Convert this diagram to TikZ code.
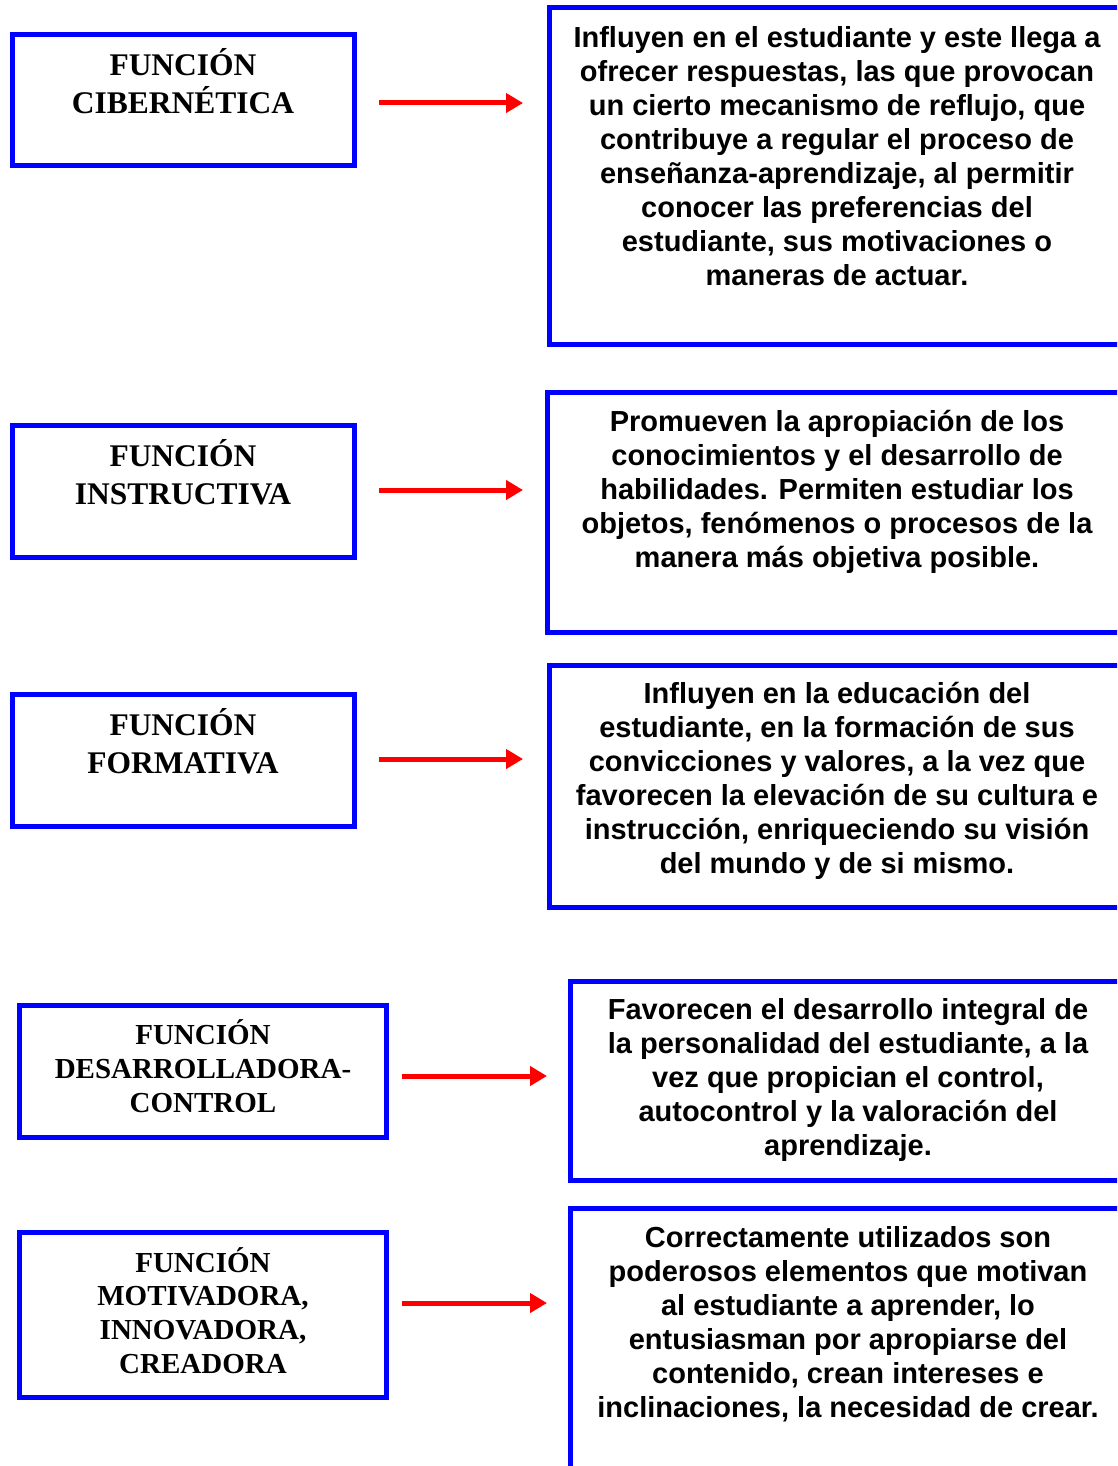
\documentclass[tikz,border=0pt]{standalone}
\usepackage{fontspec}
\setmainfont{Liberation Serif}
\newfontfamily\arialfont{Liberation Sans}
\usetikzlibrary{arrows.meta}
\definecolor{bx}{RGB}{0,0,255}
\definecolor{ar}{RGB}{255,0,0}
\begin{document}
\begin{tikzpicture}[x=1pt,y=-1pt,
  lbox/.style={draw=bx, line width=5pt, inner sep=0pt, minimum width=342pt, minimum height=131pt},
  rbox/.style={draw=bx, line width=5pt, inner sep=0pt},
  ltext/.style={font=\bfseries\fontsize{31.5}{38}\selectfont, align=center, inner sep=0pt},
  ltextsm/.style={font=\bfseries\fontsize{29}{33.7}\selectfont, align=center, inner sep=0pt},
  rtext/.style={font=\arialfont\bfseries\fontsize{29}{34}\selectfont, align=center, inner sep=0pt},
  arr/.style={draw=ar, line width=5pt, -{Triangle[length=17pt,width=19pt]}}]
\useasboundingbox (0,0) rectangle (1117,1466);
\clip (0,0) rectangle (1117,1466);

% left boxes
\node[lbox] (l1) at (183.5,100) {};
\node[lbox, minimum height=132pt] (l2) at (183.5,491.5) {};
\node[lbox, minimum height=132pt] (l3) at (183.5,760.5) {};
\node[lbox, minimum width=367pt, minimum height=132pt] (l4) at (203,1071.5) {};
\node[lbox, minimum width=367pt, minimum height=165pt] (l5) at (203,1315) {};

\node[ltext] (lt1) at (183,81) {FUNCIÓN\\CIBERNÉTICA};
\node[ltext] (lt2) at (183,472) {FUNCIÓN\\INSTRUCTIVA};
\node[ltext] (lt3) at (183,741) {FUNCIÓN\\FORMATIVA};
\node[ltextsm] (lt4) at (203,1066) {FUNCIÓN\\DESARROLLADORA-\\CONTROL};
\node[ltextsm] (lt5) at (203,1310.5) {FUNCIÓN\\MOTIVADORA,\\INNOVADORA,\\CREADORA};

% right boxes
\node[rbox, minimum width=601pt, minimum height=336pt] (r1) at (849.5,176) {};
\node[rbox, minimum width=603pt, minimum height=240pt] (r2) at (848.5,512) {};
\node[rbox, minimum width=601pt, minimum height=242pt] (r3) at (849.5,786) {};
\node[rbox, minimum width=580pt, minimum height=199pt] (r4) at (860,1080.5) {};
\node[rbox, minimum width=580pt, minimum height=292pt] (r5) at (860,1354) {};

\node[rtext] (rt1) at (837,156) {Influyen en el estudiante y este llega a\\ofrecer respuestas, las que provocan\\un cierto mecanismo de reflujo, que\\contribuye a regular el proceso de\\enseñanza-aprendizaje, al permitir\\conocer las preferencias del\\estudiante, sus motivaciones o\\maneras de actuar.};
\node[rtext] (rt2) at (837,492) {Promueven la apropiación de los\\conocimientos y el desarrollo de\\habilidades. Permiten estudiar los\\objetos, fenómenos o procesos de la\\manera más objetiva posible.};
\node[rtext] (rt3) at (837,781) {Influyen en la educación del\\estudiante, en la formación de sus\\convicciones y valores, a la vez que\\favorecen la elevación de su cultura e\\instrucción, enriqueciendo su visión\\del mundo y de si mismo.};
\node[rtext] (rt4) at (848,1080) {Favorecen el desarrollo integral de\\la personalidad del estudiante, a la\\vez que propician el control,\\autocontrol y la valoración del\\aprendizaje.};
\node[rtext] (rt5) at (848,1324) {Correctamente utilizados son\\poderosos elementos que motivan\\al estudiante a aprender, lo\\entusiasman por apropiarse del\\contenido, crean intereses e\\inclinaciones, la necesidad de crear.};

% arrows
\coordinate (a1s) at (379,103); \coordinate (a1e) at (523,103);
\coordinate (a2s) at (379,490); \coordinate (a2e) at (523,490);
\coordinate (a3s) at (379,759); \coordinate (a3e) at (523,759);
\coordinate (a4s) at (402,1076); \coordinate (a4e) at (547,1076);
\coordinate (a5s) at (402,1303); \coordinate (a5e) at (547,1303);
\draw[arr] (a1s) -- (a1e);
\draw[arr] (a2s) -- (a2e);
\draw[arr] (a3s) -- (a3e);
\draw[arr] (a4s) -- (a4e);
\draw[arr] (a5s) -- (a5e);
\end{tikzpicture}
\end{document}
